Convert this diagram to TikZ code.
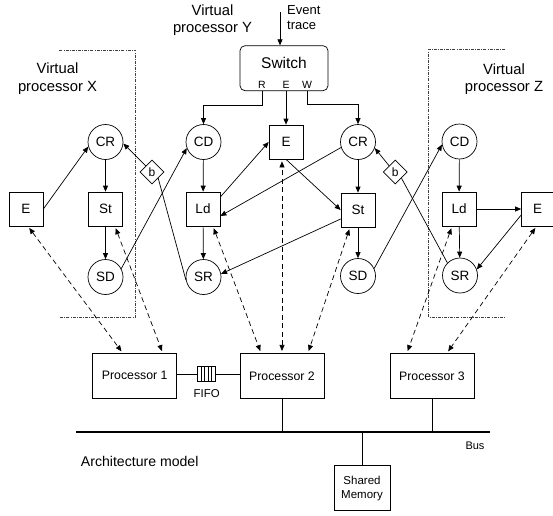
\documentclass[tikz,border=0pt]{standalone}
\usepackage{fontspec}
\setmainfont{Liberation Sans}
\usetikzlibrary{arrows.meta,shapes.geometric,calc}
\begin{document}
\begin{tikzpicture}[x=1pt,y=-1pt,
  every node/.style={inner sep=0pt},
  circ/.style={circle,draw,minimum size=35pt,line width=0.7pt,font=\fontsize{13.5}{15}\selectfont},
  sq/.style={rectangle,draw,minimum size=34pt,line width=0.7pt,font=\fontsize{13.5}{15}\selectfont},
  dmd/.style={diamond,draw,minimum size=24pt,line width=0.7pt,font=\fontsize{12}{13}\selectfont},
  proc/.style={rectangle,draw,minimum width=84pt,minimum height=45pt,line width=0.7pt,font=\fontsize{12.3}{14}\selectfont},
  vlabel/.style={align=center,font=\fontsize{14.8}{17.5}\selectfont},
  small/.style={font=\fontsize{10.5}{12}\selectfont},
  arr/.style={-{Triangle[length=6pt,width=5pt]},line width=0.7pt},
  plain/.style={line width=0.7pt},
  darr/.style={{Triangle[length=6pt,width=5pt]}-{Triangle[length=6pt,width=5pt]},dash pattern=on 5pt off 3.5pt,line width=0.7pt,shorten <=2pt,shorten >=2pt},
  vbox/.style={draw=black!75,line width=0.6pt,dash pattern=on 3pt off 1.2pt on 0.8pt off 1.2pt},
]
\useasboundingbox (0,0) rectangle (553,515);

% virtual processor frames
\draw[vbox] (59.3,50) -- (135.3,50) -- (135.3,317.3) -- (59.3,317.3);
\draw[vbox] (505,49.3) -- (428.7,49.3) -- (428.7,317.3) -- (505,317.3);

% labels
\node[vlabel] (lx) at (57.5,78.5) {Virtual\\processor X};
\node[vlabel] (ly) at (212.5,20) {Virtual\\processor Y};
\node[vlabel] (lz) at (504,79) {Virtual\\processor Z};
\node[align=left,anchor=west,font=\fontsize{13}{15}\selectfont] (ev) at (287,18) {Event\\trace};

% switch
\node[draw,rounded corners=5pt,minimum width=88pt,minimum height=45pt,line width=0.7pt] (sw) at (284,68.2) {};
\node[font=\fontsize{15.5}{17}\selectfont] (swt) at (284,62.5) {Switch};
\node[small] (swR) at (262,85) {R};
\node[small] (swE) at (286,85) {E};
\node[small] (swW) at (307,85) {W};
\coordinate (evtop) at (280,12);
\draw[arr] (evtop) -- (evtop |- sw.north);

% column X
\node[circ] (CRx) at (105.5,142) {CR};
\node[sq] (Stx) at (105.5,209) {St};
\node[circ] (SDx) at (105.5,277) {SD};
\node[sq] (Ex) at (26,209) {E};
\node[dmd] (bx) at (152,172) {b};

% column Y
\node[circ] (CDy) at (203.5,142) {CD};
\node[sq] (Ldy) at (203,209) {Ld};
\node[circ] (SRy) at (203.5,277) {SR};
\node[sq] (Ey) at (286,142) {E};
\node[circ] (CRy) at (358,142) {CR};
\node[sq] (Sty) at (358,210) {St};
\node[circ] (SDy) at (358,276) {SD};
\node[dmd] (by) at (395.3,172) {b};

% column Z
\node[circ] (CDz) at (459.5,141.5) {CD};
\node[sq] (Ldz) at (459,209) {Ld};
\node[circ] (SRz) at (460,275.5) {SR};
\node[sq,minimum width=32pt] (Ez) at (537.5,209) {E};

% switch outputs
\draw[arr] (swR |- sw.south) -- ++(0,14) -| (CDy.north);
\draw[arr] (sw.south -| Ey.north) -- (Ey.north);
\draw[arr] (swW |- sw.south) -- ++(0,13.5) -| (CRy.north);

% X arrows
\draw[arr] (Ex.east) -- (CRx.195);
\draw[arr] (CRx) -- (Stx);
\draw[arr] (Stx) -- (SDx);
\draw[arr] (SDx.28) -- (CDy.200);
\draw[plain] (SRy.190) -- (bx.south east);
\draw[arr] (bx.north west) -- (CRx.-5);

% Y arrows
\draw[arr] (CDy) -- (Ldy);
\draw[arr] (Ldy) -- (SRy);
\draw[arr] ($(Ldy.east)+(0,-12)$) -- (Ey.west);
\draw[arr] (CRy.198) -- ($(Ldy.east)+(0,7)$);
\draw[arr] (Ey.south) -- (Sty.west);
\draw[arr] ($(Sty.west)+(0,9)$) -- (SRy.10);
\draw[arr] (CRy) -- (Sty);
\draw[arr] (Sty) -- (SDy);
\draw[arr] (SDy.25) -- (CDz.190);
\draw[plain] (SRz.135) -- (by.south east);
\draw[arr] (by.north west) -- (CRy.-20);

% Z arrows
\draw[arr] (CDz) -- (Ldz);
\draw[arr] (Ldz) -- (SRz);
\draw[arr] (Ldz.east) -- (Ez.west);
\draw[arr] ($(Ez.west)+(0,6)$) -- (SRz.20);

% architecture
\node[proc] (P1) at (134.7,375.8) {Processor 1};
\node[proc] (P2) at (282,375.8) {Processor 2};
\node[proc] (P3) at (432,375.8) {Processor 3};
\node[draw,minimum width=17.5pt,minimum height=15pt,line width=0.6pt] (fifo) at (206.3,374) {};
\foreach \i in {1,...,4}
  \draw[line width=0.5pt] ($(fifo.south west)!\i/5!(fifo.south east)$) -- ($(fifo.north west)!\i/5!(fifo.north east)$);
\node[font=\fontsize{11.4}{13}\selectfont] (fifol) at (206.7,393.3) {FIFO};
\draw[plain] (fifo.west) -- (fifo.west -| P1.east);
\draw[plain] (fifo.east) -- (fifo.east -| P2.west);

\coordinate (busL) at (76,432);
\coordinate (busR) at (490,432);
\draw[line width=2.6pt] (busL) -- (busR);
\node[font=\fontsize{11}{13}\selectfont] (busl) at (475,445.7) {Bus};
\draw[plain] (P2.south) -- (P2.south |- busL);
\draw[plain] (P3.south) -- (P3.south |- busL);
\node[draw,minimum width=56pt,minimum height=45pt,align=center,line width=0.7pt,font=\fontsize{11.5}{13.5}\selectfont] (SM) at (362,488.3) {Shared\\Memory};
\draw[plain] (SM.north) -- (SM.north |- busL);
\node[anchor=west,font=\fontsize{14.1}{16}\selectfont] (arch) at (80.7,461) {Architecture model};

% mapping (dashed)
\draw[darr] ($(Ex.south)+(2,0)$) -- ($(P1.north)+(-12,0)$);
\draw[darr] ($(Stx.south)+(9.5,0)$) -- ($(P1.north)+(28,0)$);
\draw[darr] ($(Ldy.south)+(10,0)$) -- ($(P2.north)+(-21,0)$);
\draw[darr] (P2.north) -- (P2.north |- Ey.south);
\draw[darr] ($(Sty.south)+(-8,0)$) -- ($(P2.north)+(26,0)$);
\draw[darr] ($(Ldz.south)+(-7,0)$) -- ($(P3.north)+(-25,0)$);
\draw[darr] ($(Ez.south)+(-1,0)$) -- ($(P3.north)+(15,0)$);
\end{tikzpicture}
\end{document}
